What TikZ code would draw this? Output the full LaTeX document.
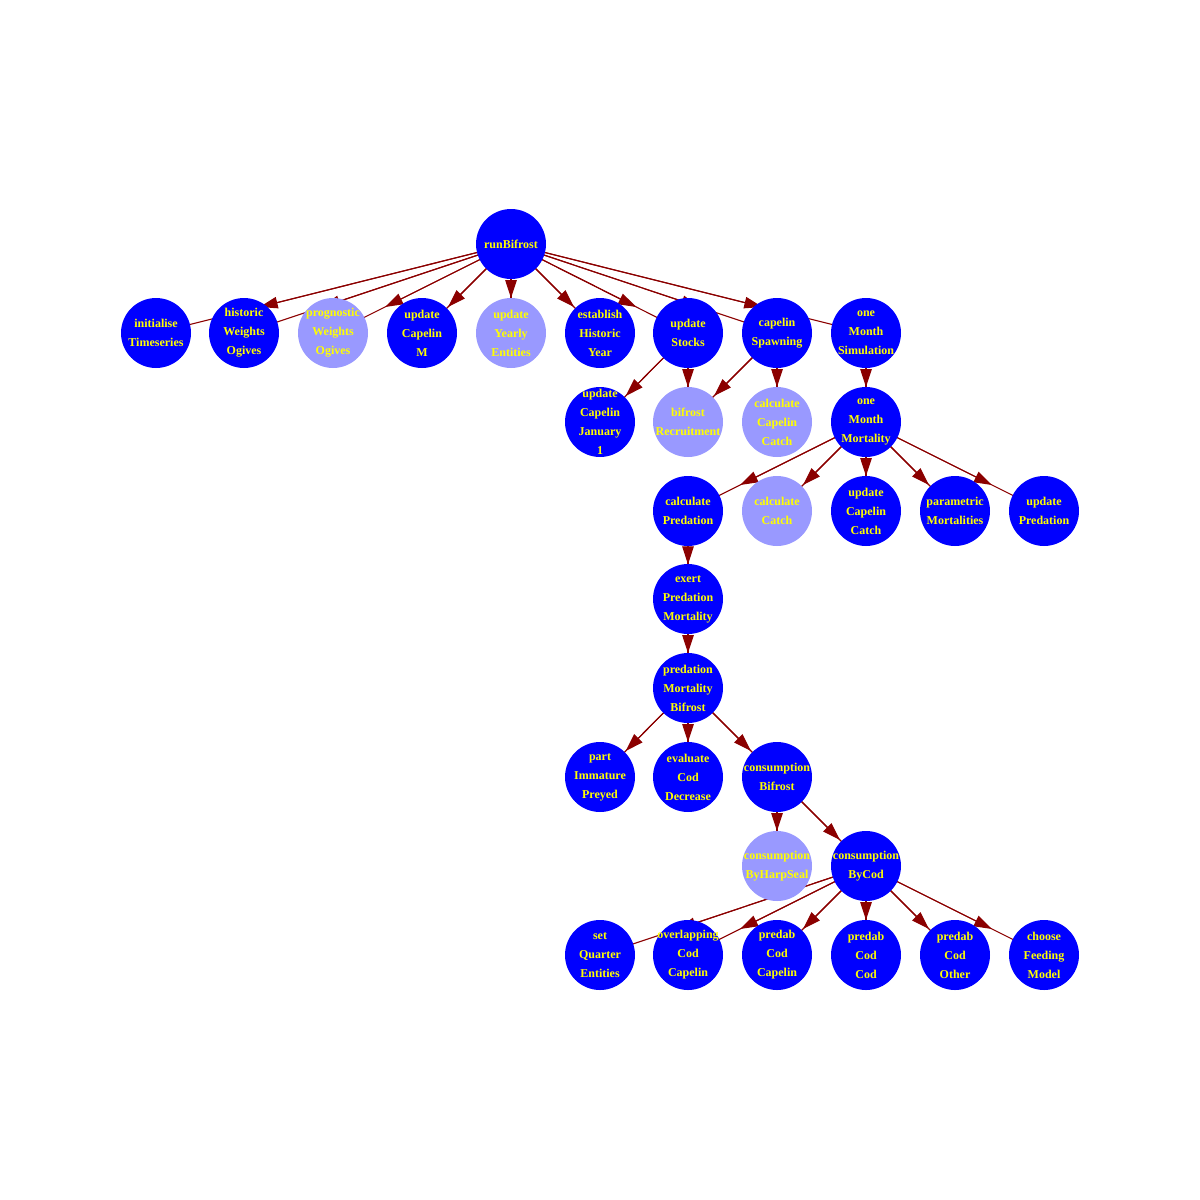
\documentclass[tikz,border=0pt]{standalone}
\usepackage{fontspec}
\setmainfont{Liberation Serif}
\usetikzlibrary{arrows.meta,calc,backgrounds}
\definecolor{nodeblue}{RGB}{0,0,255}
\definecolor{nodelight}{RGB}{153,153,255}
\definecolor{edgered}{RGB}{139,0,0}
\definecolor{txtyellow}{RGB}{255,255,0}
\tikzset{
  fntext/.style={inner sep=0pt, text=txtyellow, align=center,
    font=\bfseries\fontsize{12}{19}\selectfont},
  fn/.style={circle, minimum size=70pt, inner sep=0pt, fill=nodeblue,
    label={[fntext]center:#1}},
  fnlight/.style={fn=#1, fill=nodelight},
  edgeline/.style={draw=edgered, line width=1.1pt},
  edgetip/.style={edgeline, -{Triangle[length=18pt,width=11.5pt]}, fill=edgered},
}
\newcommand\myedge[3]{%
  \draw[edgeline] (#1.center) -- (#2.center);
  \draw[edgetip] (#1.center) -- ($(#1.center)!#3!(#2.center)$);
}
\def\dg{0.708}
\def\vt{0.607}
\begin{document}
\begin{tikzpicture}[x=1pt,y=-1pt]
\useasboundingbox (0,0) rectangle (1200,1200);
% level 0
\node[fn={runBifrost}] (run) at (511,244) {};
% level 1
\node[fn={initialise\\Timeseries}] (init) at (156,333) {};
\node[fn={historic\\Weights\\Ogives}] (hist) at (244,333) {};
\node[fnlight={prognostic\\Weights\\Ogives}] (prog) at (333,333) {};
\node[fn={update\\Capelin\\M}] (capM) at (422,333) {};
\node[fnlight={update\\Yearly\\Entities}] (yearly) at (511,333) {};
\node[fn={establish\\Historic\\Year}] (estab) at (600,333) {};
\node[fn={update\\Stocks}] (stocks) at (688,333) {};
\node[fn={capelin\\Spawning}] (spawn) at (777,333) {};
\node[fn={one\\Month\\Simulation}] (omsim) at (866,333) {};
% level 2
\node[fn={update\\Capelin\\January\\1}] (capJan) at (600,422) {};
\node[fnlight={bifrost\\Recruitment}] (recr) at (688,422) {};
\node[fnlight={calculate\\Capelin\\Catch}] (ccatch) at (777,422) {};
\node[fn={one\\Month\\Mortality}] (ommort) at (866,422) {};
% level 3
\node[fn={calculate\\Predation}] (calcpred) at (688,511) {};
\node[fnlight={calculate\\Catch}] (calccatch) at (777,511) {};
\node[fn={update\\Capelin\\Catch}] (updccatch) at (866,511) {};
\node[fn={parametric\\Mortalities}] (param) at (955,511) {};
\node[fn={update\\Predation}] (updpred) at (1044,511) {};
% level 4
\node[fn={exert\\Predation\\Mortality}] (exert) at (688,599) {};
% level 5
\node[fn={predation\\Mortality\\Bifrost}] (pmb) at (688,688) {};
% level 6
\node[fn={part\\Immature\\Preyed}] (part) at (600,777) {};
\node[fn={evaluate\\Cod\\Decrease}] (eval) at (688,777) {};
\node[fn={consumption\\Bifrost}] (consb) at (777,777) {};
% level 7
\node[fnlight={consumption\\ByHarpSeal}] (harp) at (777,866) {};
\node[fn={consumption\\ByCod}] (bycod) at (866,866) {};
% level 8
\node[fn={set\\Quarter\\Entities}] (setq) at (600,955) {};
\node[fn={overlapping\\Cod\\Capelin}] (overl) at (688,955) {};
\node[fn={predab\\Cod\\Capelin}] (pcc) at (777,955) {};
\node[fn={predab\\Cod\\Cod}] (pcod) at (866,955) {};
\node[fn={predab\\Cod\\Other}] (poth) at (955,955) {};
\node[fn={choose\\Feeding\\Model}] (choose) at (1044,955) {};
\begin{scope}[on background layer]
\myedge{run}{init}{\dg}
\myedge{run}{hist}{\dg}
\myedge{run}{prog}{\dg}
\myedge{run}{capM}{\dg}
\myedge{run}{yearly}{\vt}
\myedge{run}{estab}{\dg}
\myedge{run}{stocks}{\dg}
\myedge{run}{spawn}{\dg}
\myedge{run}{omsim}{\dg}
\myedge{stocks}{capJan}{\dg}
\myedge{stocks}{recr}{\vt}
\myedge{spawn}{recr}{\dg}
\myedge{spawn}{ccatch}{\vt}
\myedge{omsim}{ommort}{\vt}
\myedge{ommort}{calcpred}{\dg}
\myedge{ommort}{calccatch}{\dg}
\myedge{ommort}{updccatch}{\vt}
\myedge{ommort}{param}{\dg}
\myedge{ommort}{updpred}{\dg}
\myedge{calcpred}{exert}{\vt}
\myedge{exert}{pmb}{\vt}
\myedge{pmb}{part}{\dg}
\myedge{pmb}{eval}{\vt}
\myedge{pmb}{consb}{\dg}
\myedge{consb}{harp}{\vt}
\myedge{consb}{bycod}{\dg}
\myedge{bycod}{setq}{\dg}
\myedge{bycod}{overl}{\dg}
\myedge{bycod}{pcc}{\dg}
\myedge{bycod}{pcod}{\vt}
\myedge{bycod}{poth}{\dg}
\myedge{bycod}{choose}{\dg}
\end{scope}
\end{tikzpicture}
\end{document}
